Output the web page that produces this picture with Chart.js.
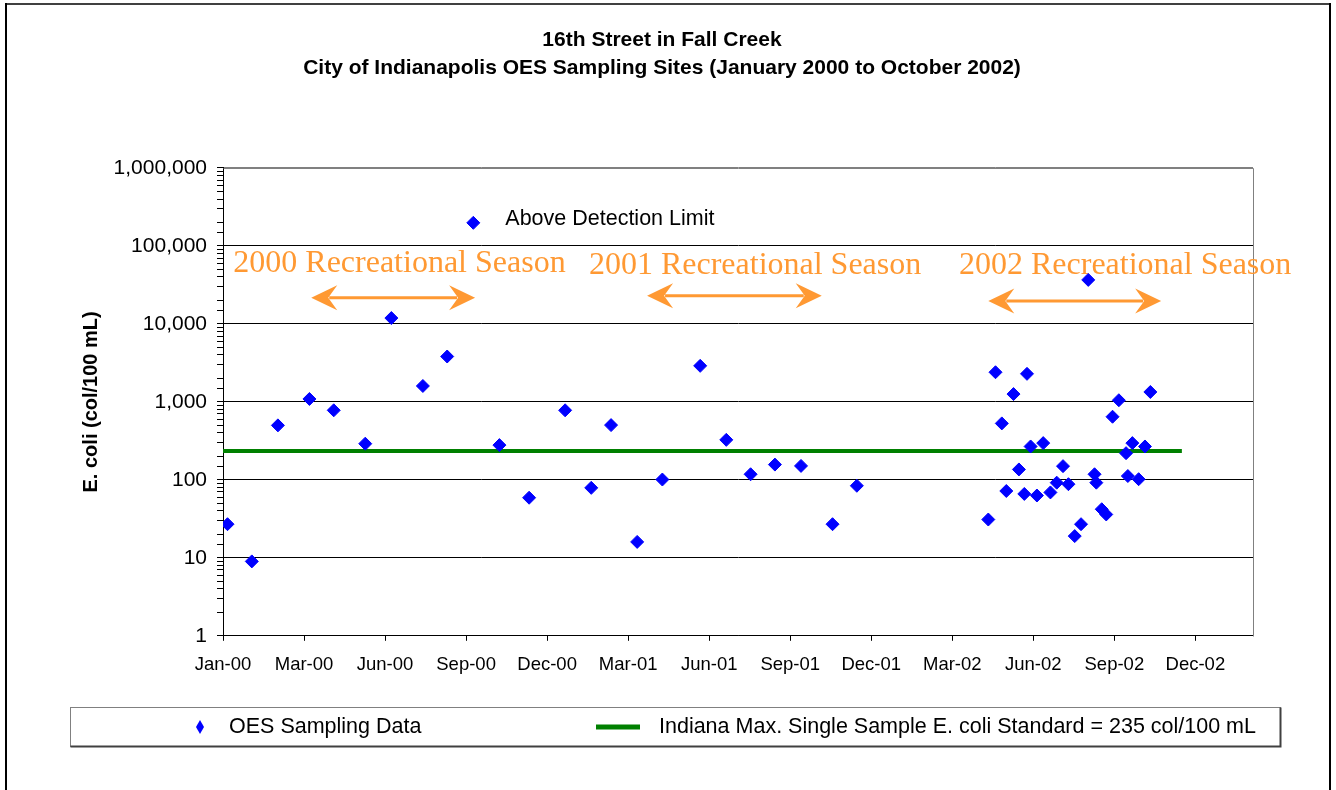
<!DOCTYPE html>
<html>
<head>
<meta charset="utf-8">
<script src="https://cdn.jsdelivr.net/npm/chart.js@4.4.0/dist/chart.umd.min.js"></script>
<style>
    html, body { margin: 0; padding: 0; background: #fff; }
    #wrap { width: 1336px; height: 790px; }
</style>
</head>
<body>
<div id="wrap"><canvas id="chart" width="1336" height="790"></canvas></div>
<script>
// Muestras de E. coli (col/100 mL)
const sampleDates = [
    '2000-01-06', '2000-02-02', '2000-03-02', '2000-04-06', '2000-05-03', '2000-06-07',
    '2000-07-06', '2000-08-10', '2000-09-06', '2000-11-03', '2000-12-06',
    '2001-01-15', '2001-02-13', '2001-03-07', '2001-04-05', '2001-05-03', '2001-06-14',
    '2001-07-13', '2001-08-09', '2001-09-05', '2001-10-04', '2001-11-08', '2001-12-05',
    '2002-04-30', '2002-05-08', '2002-05-15', '2002-05-20', '2002-05-28', '2002-06-03',
    '2002-06-09', '2002-06-12', '2002-06-16', '2002-06-23', '2002-06-30', '2002-07-08',
    '2002-07-15', '2002-07-22', '2002-07-28', '2002-08-04', '2002-08-11', '2002-08-19',
    '2002-08-26', '2002-08-28', '2002-09-03', '2002-09-08', '2002-09-15', '2002-09-22',
    '2002-09-30', '2002-10-02', '2002-10-07', '2002-10-14', '2002-10-21', '2002-10-27'
];
const sampleValues = [
    27, 9, 500, 1090, 780, 291,
    11900, 1600, 3820, 279, 59,
    780, 79, 504, 16, 101, 2900,
    326, 118, 157, 151, 27, 84,
    31, 2400, 530, 72, 1260, 136,
    66, 2290, 268, 63, 296, 69,
    92, 150, 88, 19, 27, 36700,
    118, 92, 42, 36, 645, 1050,
    220, 112, 296, 102, 268, 1340
];

// Estándar de Indiana
const standardDates = ['2000-01-01', '2002-12-01'];
const standardValues = [235, 235];

// Marcador "Above Detection Limit"
const detectionDates = ['2000-10-05'];
const detectionValues = [198000];

// Temporadas recreativas
const seasonLabels = ['2000 Recreational Season', '2001 Recreational Season', '2002 Recreational Season'];
const seasonLabelDates = ['2000-07-15', '2001-08-14', '2002-09-29'];
const seasonLabelValues = [60000, 55500, 55500];
const seasonStarts = ['2000-04-08', '2001-04-16', '2002-04-30'];
const seasonEnds = ['2000-10-07', '2001-10-27', '2002-11-08'];
const seasonArrowValues = [21700, 23000, 19700];

const MONTHS = ['Jan', 'Feb', 'Mar', 'Apr', 'May', 'Jun', 'Jul', 'Aug', 'Sep', 'Oct', 'Nov', 'Dec'];
const FONT = '"Liberation Sans", Arial, sans-serif';
const ORANGE = '#FF9933';
const BASE = Date.UTC(2000, 0, 1);

function dayOf(s) {
    return (Date.parse(s) - BASE) / 86400000;
}

function toPoints(dates, values) {
    return dates.map((d, i) => ({ x: dayOf(d), y: values[i] }));
}

function isDecade(v) {
    const l = Math.log10(v);
    return Math.abs(l - Math.round(l)) < 1e-9;
}

// Marco exterior y borde del área de trazado
const framePlugin = {
    id: 'frame',
    beforeDraw(chart) {
        const ctx = chart.ctx;
        ctx.save();
        ctx.fillStyle = '#404040';
        ctx.fillRect(5, 3, 1326, 2);
        ctx.fillStyle = '#000';
        ctx.fillRect(5, 3, 2, 787);
        ctx.fillRect(1329, 3, 2, 787);
        ctx.restore();
    },
    beforeDatasetsDraw(chart) {
        const { ctx, chartArea } = chart;
        ctx.save();
        ctx.strokeStyle = '#808080';
        ctx.lineWidth = 1;
        ctx.beginPath();
        ctx.moveTo(Math.round(chartArea.left) + 0.5, Math.round(chartArea.top) + 0.5);
        ctx.lineTo(Math.round(chartArea.right) + 0.5, Math.round(chartArea.top) + 0.5);
        ctx.lineTo(Math.round(chartArea.right) + 0.5, Math.round(chartArea.bottom) + 0.5);
        ctx.stroke();
        ctx.restore();
    }
};

function drawArrowHead(ctx, tipX, y, dir) {
    ctx.beginPath();
    ctx.moveTo(tipX, y);
    ctx.lineTo(tipX + dir * 26, y - 12.5);
    ctx.lineTo(tipX + dir * 17, y);
    ctx.lineTo(tipX + dir * 26, y + 12.5);
    ctx.closePath();
    ctx.fill();
}

// Textos y flechas de las temporadas
const seasonPlugin = {
    id: 'seasons',
    beforeDatasetsDraw(chart) {
        const { ctx, scales: { x, y } } = chart;
        ctx.save();
        ctx.fillStyle = ORANGE;
        ctx.strokeStyle = ORANGE;
        ctx.font = '32px "Liberation Serif", "Times New Roman", serif';
        ctx.textAlign = 'center';
        ctx.textBaseline = 'middle';
        seasonLabels.forEach((label, i) => {
            ctx.fillText(label, x.getPixelForValue(dayOf(seasonLabelDates[i])), y.getPixelForValue(seasonLabelValues[i]));

            const x0 = x.getPixelForValue(dayOf(seasonStarts[i]));
            const x1 = x.getPixelForValue(dayOf(seasonEnds[i]));
            const ay = y.getPixelForValue(seasonArrowValues[i]);
            ctx.lineWidth = 3;
            ctx.beginPath();
            ctx.moveTo(x0 + 18, ay);
            ctx.lineTo(x1 - 18, ay);
            ctx.stroke();
            drawArrowHead(ctx, x0, ay, 1);
            drawArrowHead(ctx, x1, ay, -1);
        });
        ctx.restore();
    },
    afterDatasetsDraw(chart) {
        // Etiqueta junto al marcador de límite de detección
        const ctx = chart.ctx;
        const meta = chart.getDatasetMeta(1);
        const pt = meta.data[0];
        ctx.save();
        ctx.fillStyle = '#000';
        ctx.font = '21.5px ' + FONT;
        ctx.textAlign = 'left';
        ctx.textBaseline = 'middle';
        ctx.fillText(chart.data.datasets[1].label, pt.x + 32, pt.y - 4);
        ctx.restore();
    }
};

// Leyenda con recuadro
const boxLegendPlugin = {
    id: 'boxLegend',
    afterDraw(chart) {
        const ctx = chart.ctx;
        const ds = chart.data.datasets;
        const top = 707.5, bottom = 746.5, left = 70.5, right = 1280.5;
        const cy = (top + bottom) / 2;
        ctx.save();
        ctx.strokeStyle = '#808080';
        ctx.lineWidth = 1;
        ctx.strokeRect(left, top, right - left, bottom - top);
        ctx.strokeStyle = '#404040';
        ctx.lineWidth = 2;
        ctx.beginPath();
        ctx.moveTo(right, top);
        ctx.lineTo(right, bottom);
        ctx.lineTo(left, bottom);
        ctx.stroke();

        // Rombo de las muestras
        ctx.fillStyle = ds[0].backgroundColor;
        ctx.beginPath();
        ctx.moveTo(200, cy - 7);
        ctx.lineTo(204, cy);
        ctx.lineTo(200, cy + 7);
        ctx.lineTo(196, cy);
        ctx.closePath();
        ctx.fill();

        // Línea del estándar
        ctx.strokeStyle = ds[2].borderColor;
        ctx.lineWidth = 5;
        ctx.beginPath();
        ctx.moveTo(596, cy);
        ctx.lineTo(640, cy);
        ctx.stroke();

        ctx.fillStyle = '#000';
        ctx.font = '21.5px ' + FONT;
        ctx.textAlign = 'left';
        ctx.textBaseline = 'middle';
        ctx.fillText(ds[0].label, 229, cy);
        ctx.fillText(ds[2].label, 659, cy);
        ctx.restore();
    }
};

const ctx = document.getElementById('chart').getContext('2d');

new Chart(ctx, {
    type: 'scatter',
    data: {
        datasets: [
            {
                label: 'OES Sampling Data',
                data: toPoints(sampleDates, sampleValues),
                pointStyle: 'rectRot',
                pointRadius: 6.5,
                backgroundColor: '#0000FF',
                borderColor: '#0000FF',
                borderWidth: 1
            },
            {
                label: 'Above Detection Limit',
                data: toPoints(detectionDates, detectionValues),
                pointStyle: 'rectRot',
                pointRadius: 6.5,
                backgroundColor: '#0000FF',
                borderColor: '#0000FF',
                borderWidth: 1
            },
            {
                label: 'Indiana Max. Single Sample E. coli Standard = 235 col/100 mL',
                data: toPoints(standardDates, standardValues),
                showLine: true,
                borderColor: '#008000',
                backgroundColor: '#008000',
                borderWidth: 4,
                pointRadius: 0
            }
        ]
    },
    options: {
        responsive: false,
        animation: false,
        events: [],
        layout: {
            padding: { left: 71, right: 83, top: 0, bottom: 101 }
        },
        plugins: {
            legend: { display: false },
            tooltip: { enabled: false },
            title: {
                display: true,
                text: ['16th Street in Fall Creek', 'City of Indianapolis OES Sampling Sites (January 2000 to October 2002)'],
                color: '#000',
                font: { family: FONT, size: 21, weight: 'bold', lineHeight: 1.333 },
                padding: { top: 26, bottom: 86 }
            }
        },
        scales: {
            x: {
                type: 'linear',
                min: 0,
                max: 1144,
                grid: {
                    drawOnChartArea: false,
                    drawTicks: true,
                    tickLength: 5,
                    tickColor: '#000'
                },
                border: { color: '#000', width: 1 },
                ticks: {
                    stepSize: 90,
                    includeBounds: false,
                    autoSkip: false,
                    maxRotation: 0,
                    padding: 13,
                    color: '#000',
                    font: { family: FONT, size: 18.5 },
                    callback: (v) => {
                        const d = new Date(BASE + v * 86400000);
                        return MONTHS[d.getUTCMonth()] + '-' + String(d.getUTCFullYear()).slice(2);
                    }
                }
            },
            y: {
                type: 'logarithmic',
                min: 1,
                max: 1000000,
                afterFit: (scale) => { scale.width = 152; },
                grid: {
                    color: (c) => {
                        if (!c.tick || !isDecade(c.tick.value)) return 'rgba(0,0,0,0)';
                        return c.tick.value === 1000000 ? '#808080' : '#000';
                    },
                    tickColor: '#000',
                    tickLength: 6,
                    lineWidth: 1
                },
                border: { color: '#000', width: 1 },
                ticks: {
                    autoSkip: false,
                    padding: 10,
                    color: '#000',
                    font: { family: FONT, size: 21 },
                    callback: (v) => isDecade(v) ? Number(v).toLocaleString('en-US') : ''
                },
                title: {
                    display: true,
                    text: 'E. coli (col/100 mL)',
                    color: '#000',
                    font: { family: FONT, size: 20, weight: 'bold' },
                    padding: { top: 8, bottom: 0 }
                }
            }
        }
    },
    plugins: [framePlugin, seasonPlugin, boxLegendPlugin]
});
</script>
</body>
</html>
